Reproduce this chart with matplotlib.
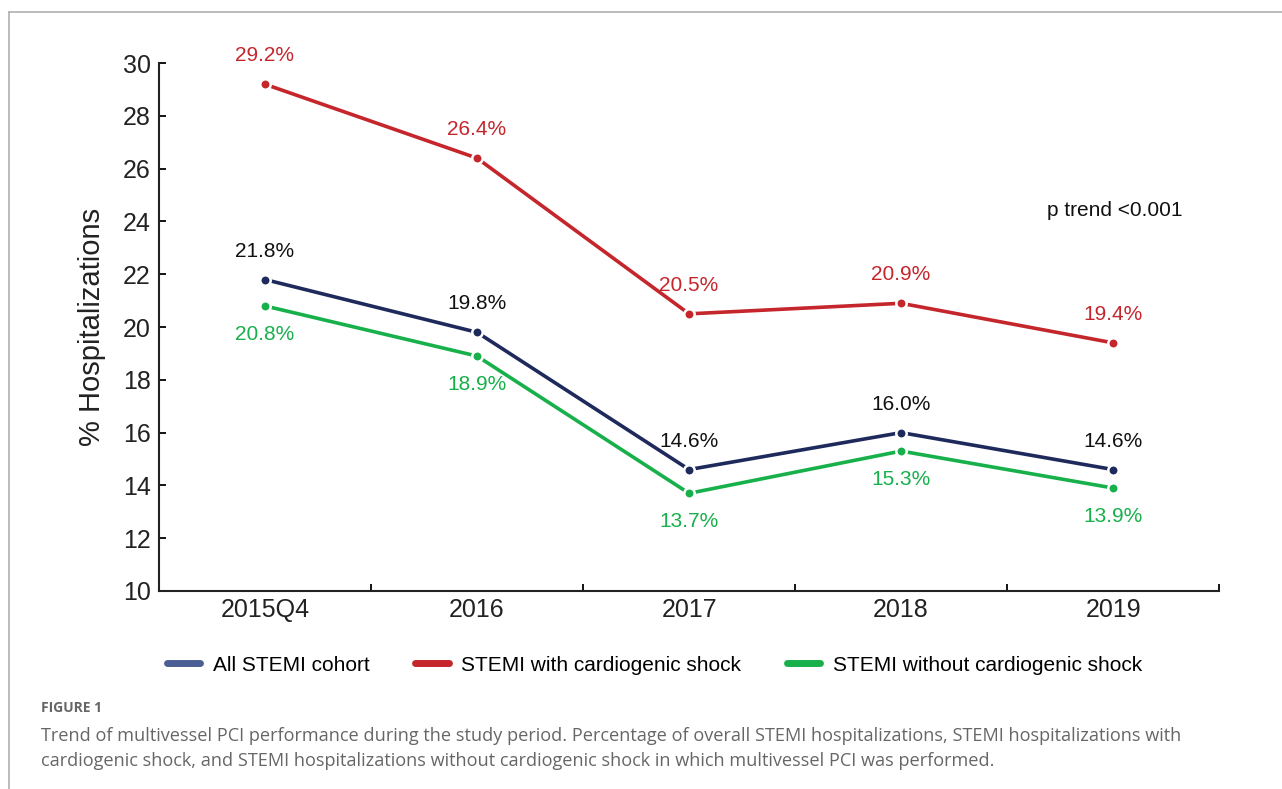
import matplotlib.pyplot as plt
from matplotlib.lines import Line2D

years = ['2015Q4', '2016', '2017', '2018', '2019']
all_stemi = [21.8, 19.8, 14.6, 16.0, 14.6]
with_shock = [29.2, 26.4, 20.5, 20.9, 19.4]
without_shock = [20.8, 18.9, 13.7, 15.3, 13.9]
y_ticks = [10, 12, 14, 16, 18, 20, 22, 24, 26, 28, 30]

navy = '#1f2a5c'
red = '#c4262c'
green = '#17b04b'

plt.rcParams['font.family'] = ['Liberation Sans', 'DejaVu Sans']

fig = plt.figure(figsize=(12.82, 7.89), dpi=100)
ax = fig.add_axes([0.124, 0.251, 0.827, 0.669])

x = list(range(len(years)))
series = [
    (all_stemi, navy, '#111111', 1),
    (with_shock, red, red, 1),
    (without_shock, green, green, -1),
]
for vals, col, tcol, side in series:
    ax.plot(x, vals, color=col, lw=2.6, marker='o', ms=7.5,
            markerfacecolor=col, markeredgecolor='white', markeredgewidth=1.8,
            solid_capstyle='butt', zorder=3)
    for xi, v in zip(x, vals):
        ax.annotate('%.1f%%' % v, (xi, v), xytext=(0, 20.5 * side),
                    textcoords='offset points', ha='center', va='center',
                    fontsize=15, color=tcol)

ax.text(3.69, 24.4, 'p trend <0.001', fontsize=15, ha='left', va='center',
        color='#111111')

ax.set_xlim(-0.5, 4.5)
ax.set_ylim(10, 30)
ax.set_yticks(y_ticks)
ax.set_xticks(x)
ax.set_xticklabels(years)
ax.set_xticks([0.5, 1.5, 2.5, 3.5, 4.5], minor=True)
ax.tick_params(axis='x', which='major', length=0, pad=5, labelsize=18,
               labelcolor='#222222')
ax.tick_params(axis='x', which='minor', direction='in', length=5, width=1.3)
ax.tick_params(axis='y', direction='in', length=5, width=1.3, pad=6,
               labelsize=18, labelcolor='#222222')
ax.set_ylabel('% Hospitalizations', fontsize=21, labelpad=12,
              color='#222222')
for s in ['top', 'right']:
    ax.spines[s].set_visible(False)
for s in ['left', 'bottom']:
    ax.spines[s].set_linewidth(1.5)
    ax.spines[s].set_color('#222222')

handles = [
    Line2D([0], [0], color='#4b5f95', lw=5, solid_capstyle='round'),
    Line2D([0], [0], color=red, lw=5, solid_capstyle='round'),
    Line2D([0], [0], color=green, lw=5, solid_capstyle='round'),
]
labels = ['All STEMI cohort', 'STEMI with cardiogenic shock',
          'STEMI without cardiogenic shock']
fig.legend(handles, labels, loc='center', bbox_to_anchor=(0.5105, 0.157),
           ncol=3, frameon=False, handlelength=1.6,
           columnspacing=2.2, handletextpad=0.6,
           prop={'family': ['Liberation Sans', 'DejaVu Sans'], 'size': 15})

# figure frame (top and left only)
fig.add_artist(Line2D([0.007, 1.0], [0.985, 0.985], color='#b0b0b0', lw=1.2,
                      transform=fig.transFigure))
fig.add_artist(Line2D([0.007, 0.007], [0.0, 0.985], color='#b0b0b0', lw=1.2,
                      transform=fig.transFigure))

fig.text(0.032, 0.103, 'FIGURE 1', fontsize=10, fontweight='bold',
         color='#666666', family=['Open Sans', 'DejaVu Sans'], va='center')
fig.text(0.032, 0.067,
         'Trend of multivessel PCI performance during the study period. '
         'Percentage of overall STEMI hospitalizations, STEMI hospitalizations with',
         fontsize=13.1, color='#666666', family=['Open Sans', 'DejaVu Sans'],
         va='center')
fig.text(0.032, 0.036,
         'cardiogenic shock, and STEMI hospitalizations without cardiogenic '
         'shock in which multivessel PCI was performed.',
         fontsize=13.1, color='#666666', family=['Open Sans', 'DejaVu Sans'],
         va='center')

fig.savefig('out.png', dpi=100, facecolor='white')
